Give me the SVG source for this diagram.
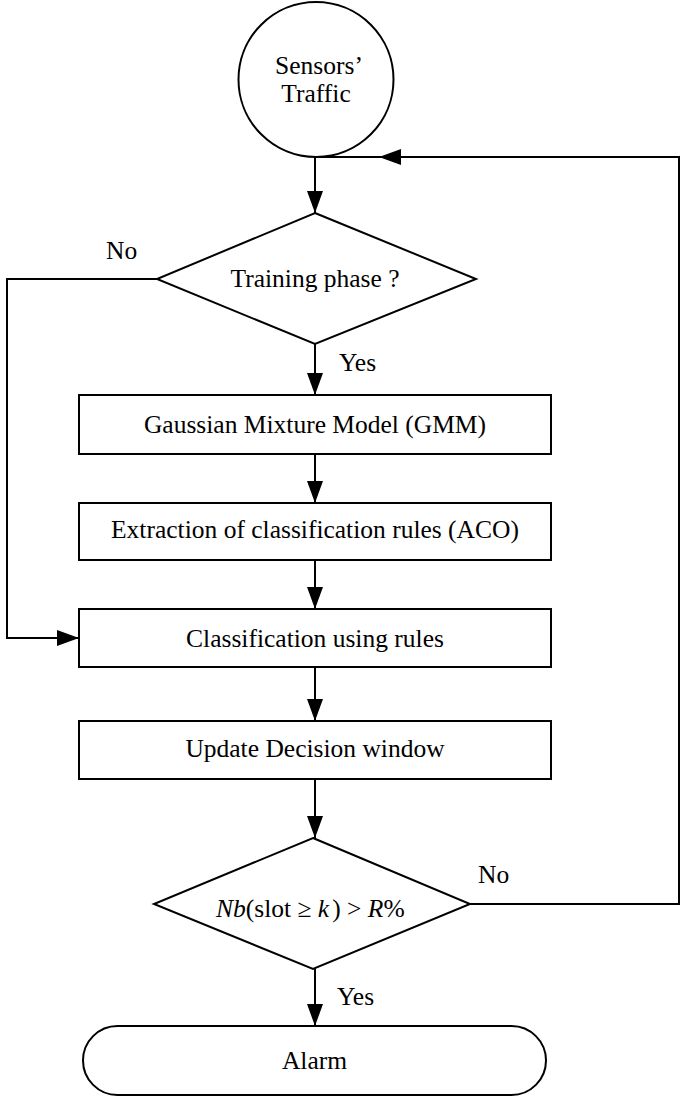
<svg xmlns="http://www.w3.org/2000/svg" width="680" height="1097" viewBox="0 0 680 1097">
<style>
.s{fill:#fff;stroke:#000;stroke-width:2}
.c{fill:none;stroke:#000;stroke-width:2}
text{font-family:"Liberation Serif","Times New Roman",serif;font-size:25.5px;fill:#000}
.m{text-anchor:middle}
.i{font-style:italic}
</style>
<defs>
<marker id="ah" markerUnits="userSpaceOnUse" markerWidth="22" markerHeight="16" refX="22" refY="8" orient="auto">
<path d="M0,0 L22,8 L0,16 z" fill="#000"/>
</marker>
</defs>
<rect width="680" height="1097" fill="#fff"/>
<g id="connectors">
<line class="c" x1="315" y1="157" x2="315" y2="213" marker-end="url(#ah)"/>
<path class="c" d="M157,279 H7 V638 H79" marker-end="url(#ah)"/>
<line class="c" x1="315" y1="344" x2="315" y2="395" marker-end="url(#ah)"/>
<line class="c" x1="315" y1="454" x2="315" y2="503" marker-end="url(#ah)"/>
<line class="c" x1="315" y1="560" x2="315" y2="609" marker-end="url(#ah)"/>
<line class="c" x1="315" y1="667" x2="315" y2="721" marker-end="url(#ah)"/>
<line class="c" x1="315" y1="779" x2="315" y2="838" marker-end="url(#ah)"/>
<line class="c" x1="315" y1="969" x2="315" y2="1026" marker-end="url(#ah)"/>
<path class="c" d="M470,904 H679 V157 H379" marker-end="url(#ah)"/>
<line class="c" x1="380" y1="157" x2="315" y2="157"/>
<text x="106" y="259">No</text>
<text x="339" y="371">Yes</text>
<text x="478" y="883">No</text>
<text x="337" y="1005">Yes</text>
</g>
<g id="start">
<circle class="s" cx="316" cy="79.5" r="77.5"/>
<text class="m" x="319" y="74">Sensors’</text>
<text class="m" x="316" y="102">Traffic</text>
</g>
<g id="training">
<polygon class="s" points="315,213 476,279 315,344 157,279"/>
<text class="m" x="315" y="287">Training phase ?</text>
</g>
<g id="gmm">
<rect class="s" x="79" y="395" width="472" height="59"/>
<text class="m" x="315" y="433">Gaussian Mixture Model (GMM)</text>
</g>
<g id="aco">
<rect class="s" x="79" y="503" width="472" height="57"/>
<text class="m" x="315" y="538">Extraction of classification rules (ACO)</text>
</g>
<g id="classify">
<rect class="s" x="79" y="609" width="472" height="58"/>
<text class="m" x="315" y="647">Classification using rules</text>
</g>
<g id="update">
<rect class="s" x="79" y="721" width="472" height="58"/>
<text class="m" x="315" y="757">Update Decision window</text>
</g>
<g id="decision">
<polygon class="s" points="313,838 470,904 313,969 154,904"/>
<text x="216" y="917"><tspan class="i">Nb</tspan>(slot ≥ <tspan class="i">k</tspan><tspan dx="3">) &gt; </tspan><tspan class="i">R</tspan>%</text>
</g>
<g id="alarm">
<rect class="s" x="83" y="1026" width="463" height="69" rx="34.5" ry="34.5"/>
<text class="m" x="314.5" y="1069">Alarm</text>
</g>
</svg>
